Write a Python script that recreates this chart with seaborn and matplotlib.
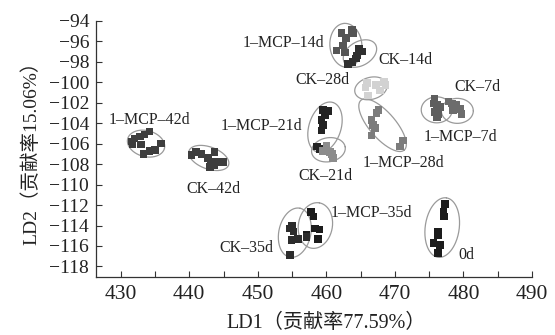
import numpy as np
import pandas as pd
import matplotlib
matplotlib.use("Agg")
import matplotlib.pyplot as plt
import seaborn as sns

# ---------------- data ----------------
groups = ["0d", "1–MCP–7d", "CK–7d", "1–MCP–14d", "CK–14d", "1–MCP–21d", "CK–21d",
          "1–MCP–28d", "CK–28d", "1–MCP–35d", "CK–35d", "1–MCP–42d", "CK–42d"]

ld1_0d = [477.3, 477.1, 477.2, 476.3, 476.3, 475.6, 476.6, 476.3]
ld2_0d = [-111.9, -112.7, -113.1, -114.6, -114.9, -115.7, -115.9, -116.7]
ld1_m7 = [475.8, 475.6, 476.1, 476.6, 475.8, 476.3, 476.1]
ld2_m7 = [-101.6, -102.1, -102.2, -102.4, -102.9, -103.1, -103.4]
ld1_c7 = [477.8, 478.3, 479.0, 479.5, 479.7, 478.5]
ld2_c7 = [-101.9, -102.1, -102.2, -102.6, -103.1, -102.7]
ld1_m14 = [462.2, 463.7, 463.9, 462.9, 462.4, 461.5, 462.7]
ld2_m14 = [-95.2, -94.9, -95.2, -95.7, -96.4, -96.9, -97.1]
ld1_c14 = [464.8, 465.2, 464.5, 464.3, 463.8, 463.2]
ld2_c14 = [-96.7, -97.0, -97.4, -97.7, -98.0, -98.2]
ld1_m21 = [459.5, 460.3, 459.8, 459.3, 459.5, 459.3, 458.6, 459.1]
ld2_m21 = [-102.7, -102.8, -103.2, -103.7, -104.2, -104.7, -106.3, -106.5]
ld1_c21 = [459.5, 460.5, 461.0, 460.0, 460.8]
ld2_c21 = [-106.7, -106.8, -107.4, -106.2, -107.0]
ld1_m28 = [467.6, 467.3, 466.6, 466.8, 467.1, 466.6, 471.2, 470.7]
ld2_m28 = [-102.7, -103.0, -103.7, -104.2, -104.5, -105.2, -105.7, -106.3]
ld1_c28 = [465.9, 465.7, 467.2, 468.4, 468.6, 467.8, 466.1]
ld2_c28 = [-100.1, -100.5, -100.3, -100.0, -100.3, -100.8, -101.3]
ld1_m35 = [457.8, 458.1, 458.3, 459.0, 458.8, 457.1]
ld2_m35 = [-112.7, -113.1, -114.3, -114.4, -115.3, -114.9]
ld1_c35 = [454.7, 455.2, 454.9, 455.9, 457.1, 454.7, 455.0]
ld2_c35 = [-114.3, -114.6, -115.4, -115.3, -115.1, -116.9, -114.0]
ld1_m42 = [434.2, 433.5, 432.8, 432.0, 431.6, 431.7, 433.0, 433.3, 434.2, 435.0, 435.9]
ld2_m42 = [-104.8, -105.1, -105.3, -105.5, -105.8, -106.1, -106.1, -107.0, -106.7, -106.6, -106.0]
ld1_c42 = [440.3, 441.0, 441.8, 443.7, 442.7, 443.2, 444.2, 444.9, 443.7, 443.0]
ld2_c42 = [-107.1, -106.8, -107.0, -106.8, -107.4, -107.8, -107.8, -107.8, -108.1, -108.3]

ld1_values = [ld1_0d, ld1_m7, ld1_c7, ld1_m14, ld1_c14, ld1_m21, ld1_c21,
              ld1_m28, ld1_c28, ld1_m35, ld1_c35, ld1_m42, ld1_c42]
ld2_values = [ld2_0d, ld2_m7, ld2_c7, ld2_m14, ld2_c14, ld2_m21, ld2_c21,
              ld2_m28, ld2_c28, ld2_m35, ld2_c35, ld2_m42, ld2_c42]

# label anchor positions (data coords)
label_x = [480.4, 479.6, 482.0, 453.8, 471.6, 450.6, 459.9, 471.2, 459.5, 466.6, 448.4, 434.2, 443.6]
label_y = [-116.9, -105.4, -100.5, -96.2, -97.8, -104.3, -109.2, -107.9, -99.8, -112.8, -116.2, -103.7, -110.4]

# ellipse centres (data) and shape (semi-axes in px, angle in deg on screen)
ell_cx = [476.9, 476.1, 479.1, 462.85, 464.9, 459.8, 460.3, 468.2, 466.5, 458.4, 455.4, 433.7, 442.85]
ell_cy = [-114.2, -102.7, -102.8, -96.4, -97.2, -104.4, -106.6, -104.2, -100.6, -114.0, -114.7, -106.0, -107.4]
ell_a = [30, 15.5, 16, 22, 18, 26, 17, 33, 16.5, 23, 25, 19, 21]
ell_b = [17, 13, 12.5, 16, 12, 16, 12, 13, 11, 17, 16, 13, 11]
ell_ang = [82, 0, 0, 95, 30, 72, 10, -49, 15, 80, 78, -15, -20]

colors = ["#1c1c1c", "#5e5e5e", "#6c6c6c", "#555555", "#303030", "#232323", "#8c8c8c",
          "#7c7c7c", "#d2d2d2", "#1c1c1c", "#2c2c2c", "#3e3e3e", "#3e3e3e"]

xticks = [430, 440, 450, 460, 470, 480, 490]
yticks = list(range(-118, -93, 2))

rows = []
for g, xs, ys in zip(groups, ld1_values, ld2_values):
    for x, y in zip(xs, ys):
        rows.append({"group": g, "LD1": x, "LD2": y})
df = pd.DataFrame(rows)

# ---------------- figure ----------------
sns.set_style("ticks")
serif = ["Liberation Serif", "Noto Sans CJK SC", "DejaVu Sans"]
plt.rcParams["font.family"] = serif
plt.rcParams["axes.unicode_minus"] = True

fig = plt.figure(figsize=(5.55, 3.35), dpi=100)
ax = fig.add_axes([0.173, 0.174, 0.9586 - 0.173, 0.938 - 0.174])
xmin, xmax, ymin, ymax = 426.4, 490, -119, -94
ax.set_xlim(xmin, xmax)
ax.set_ylim(ymin, ymax)

sns.scatterplot(data=df, x="LD1", y="LD2", hue="group", hue_order=groups,
                palette=dict(zip(groups, colors)), marker="s", s=30,
                edgecolor="none", linewidth=0, legend=False, ax=ax, zorder=3)

# ellipses drawn parametrically (converted from screen px to data units)
bbox = ax.get_position()
W = bbox.width * fig.get_figwidth() * fig.dpi
H = bbox.height * fig.get_figheight() * fig.dpi
kx = W / (xmax - xmin)
ky = H / (ymax - ymin)
t = np.linspace(0, 2 * np.pi, 200)
for cx, cy, a, b, ang in zip(ell_cx, ell_cy, ell_a, ell_b, ell_ang):
    th = np.deg2rad(ang)
    px = a * np.cos(t) * np.cos(th) - b * np.sin(t) * np.sin(th)
    py = a * np.cos(t) * np.sin(th) + b * np.sin(t) * np.cos(th)
    ax.plot(cx + px / kx, cy + py / ky, color="#9a9a9a", lw=0.9, zorder=2)

for g, lx, ly in zip(groups, label_x, label_y):
    ax.text(lx, ly, g, ha="center", va="center", fontsize=11.5, color="#222222")

ax.set_xticks(xticks)
ax.set_xticks(np.arange(435, 490, 10), minor=True)
ax.set_yticks(yticks)
ax.set_xticklabels([str(v) for v in xticks], fontsize=15.5)
ax.set_yticklabels([("\u2212" + str(-v)) for v in yticks], fontsize=14)
ax.tick_params(direction="in", length=4, width=0.8, colors="#333333")
ax.tick_params(axis="x", pad=6)
ax.tick_params(axis="y", pad=5)
ax.tick_params(which="minor", direction="in", length=4, width=0.8, colors="#333333")
for lab in ax.get_xticklabels() + ax.get_yticklabels():
    lab.set_color("#222222")

for s in ["top", "right"]:
    ax.spines[s].set_visible(False)
for s in ["left", "bottom"]:
    ax.spines[s].set_color("#333333")
    ax.spines[s].set_linewidth(0.9)

ax.set_xlabel("LD1（贡献率77.59%）", fontsize=14.5, color="#222222", labelpad=4)
ax.xaxis.set_label_coords(0.527, -0.145)
ax.set_ylabel("LD2（贡献率15.06%）", fontsize=14, color="#222222", labelpad=6)

fig.savefig("out.png", dpi=100, facecolor="white")
